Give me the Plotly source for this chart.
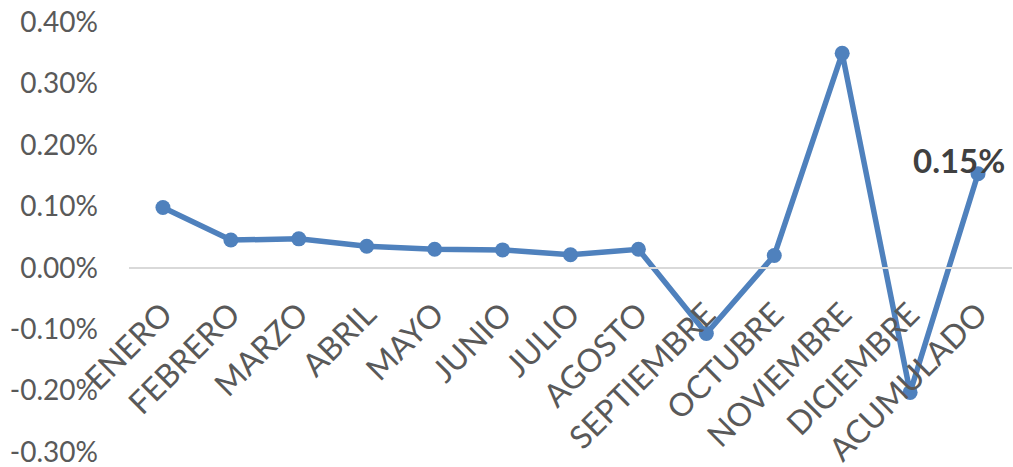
import plotly.graph_objects as go

months = ["ENERO", "FEBRERO", "MARZO", "ABRIL", "MAYO", "JUNIO", "JULIO",
          "AGOSTO", "SEPTIEMBRE", "OCTUBRE", "NOVIEMBRE", "DICIEMBRE", "ACUMULADO"]
values = [0.00098, 0.00045, 0.00047, 0.00035, 0.00030, 0.00029, 0.00021,
          0.00030, -0.00107, 0.00020, 0.00349, -0.00203, 0.00153]
y_ticks = [-0.003, -0.002, -0.001, 0.0, 0.001, 0.002, 0.003, 0.004]
y_tick_labels = ["-0.30%", "-0.20%", "-0.10%", "0.00%", "0.10%", "0.20%", "0.30%", "0.40%"]
label_text = "0.15%"

FONT = "Lato, Carlito, Calibri, sans-serif"
ymin, ymax = -0.003, 0.004

fig = go.Figure()
fig.add_trace(go.Scatter(
    x=months, y=values, mode="lines+markers",
    line=dict(color="#4F81BD", width=5.5),
    marker=dict(color="#4F81BD", size=15),
    hoverinfo="skip", showlegend=False, cliponaxis=False,
))

fig.add_annotation(
    x=months[-1], y=values[-1], xref="x", yref="y",
    text="<b>" + label_text + "</b>", showarrow=False,
    font=dict(family=FONT, size=33, color="#404040"),
    xshift=-19, yshift=14,
)

fig.update_layout(
    width=1013, height=467,
    margin=dict(l=129, r=1, t=22, b=15, autoexpand=False),
    paper_bgcolor="white", plot_bgcolor="white",
    xaxis=dict(
        type="category", automargin=False,
        anchor="free", position=(0 - ymin) / (ymax - ymin),
        showline=True, linecolor="#D9D9D9", linewidth=2,
        showgrid=False, zeroline=False, ticks="",
        tickangle=-45,
        tickfont=dict(family=FONT, size=32, color="#595959"),
        ticklabelstandoff=14,
        ticklabeloverflow="allow",
        range=[-0.5, len(months) - 0.5],
    ),
    yaxis=dict(
        range=[ymin, ymax], automargin=False,
        tickvals=y_ticks, ticktext=y_tick_labels,
        showgrid=False, zeroline=False, showline=False, ticks="",
        tickfont=dict(family=FONT, size=28, color="#595959"),
        ticklabelstandoff=30, ticklabeloverflow="allow",
    ),
)

fig.write_html(
    "out.html",
    config={"displayModeBar": False, "staticPlot": True},
    post_script="document.body.style.margin='0';document.body.style.overflow='hidden';",
)
